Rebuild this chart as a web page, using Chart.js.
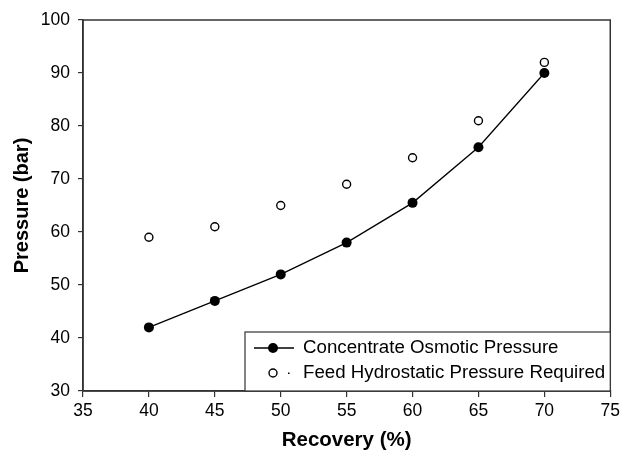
<!DOCTYPE html>
<html>
<head>
<meta charset="utf-8">
<script src="https://cdn.jsdelivr.net/npm/chart.js@4.4.0/dist/chart.umd.min.js"></script>
<style>
  html, body { margin: 0; padding: 0; background: #fff; }
  #wrap { width: 624px; height: 451px; }
</style>
</head>
<body>
<div id="wrap"><canvas id="pressureChart" width="624" height="451"></canvas></div>
<script>
// Recovery (%) on x
const recovery = [40, 45, 50, 55, 60, 65, 70];
// Pressure (bar)
const osmoticPressure = [42, 47, 52, 58, 65.5, 76, 90];
const feedPressure = [59, 61, 65, 69, 74, 81, 92];
const seriesLabels = ['Concentrate Osmotic Pressure', 'Feed Hydrostatic Pressure Required'];
const xTicks = [35, 40, 45, 50, 55, 60, 65, 70, 75];
const yTicks = [30, 40, 50, 60, 70, 80, 90, 100];

const FONT = '"Liberation Sans", Arial, sans-serif';
const INK = '#000';

// frame around the plot area (top + right edges)
const framePlugin = {
    id: 'frame',
    afterDraw(chart) {
        const { ctx, chartArea: a } = chart;
        ctx.save();
        ctx.strokeStyle = '#333';
        ctx.lineWidth = 1.5;
        ctx.strokeRect(a.left, a.top, a.right - a.left, a.bottom - a.top);
        ctx.restore();
    }
};

// legend box sitting in the lower right corner of the plot
const boxLegend = {
    id: 'boxLegend',
    afterDraw(chart) {
        const { ctx, chartArea: a } = chart;
        const boxL = a.left + 162, boxT = a.bottom - 59;
        ctx.save();
        ctx.fillStyle = '#fff';
        ctx.fillRect(boxL, boxT, a.right - boxL, a.bottom - boxT);
        ctx.strokeStyle = '#333';
        ctx.lineWidth = 1.2;
        ctx.strokeRect(boxL, boxT, a.right - boxL, a.bottom - boxT);

        const sx = boxL + 28;
        const rows = [boxT + 16, boxT + 41];
        // row 1: line + filled dot
        ctx.strokeStyle = INK;
        ctx.lineWidth = 1.3;
        ctx.beginPath();
        ctx.moveTo(boxL + 9, rows[0]);
        ctx.lineTo(boxL + 49, rows[0]);
        ctx.stroke();
        ctx.fillStyle = INK;
        ctx.beginPath();
        ctx.arc(sx, rows[0], 5, 0, Math.PI * 2);
        ctx.fill();
        // row 2: open circle + small dot
        ctx.beginPath();
        ctx.arc(sx, rows[1], 4, 0, Math.PI * 2);
        ctx.fillStyle = '#fff';
        ctx.fill();
        ctx.lineWidth = 1.4;
        ctx.stroke();
        ctx.fillStyle = INK;
        ctx.fillRect(sx + 15, rows[1] - 0.5, 1.5, 1.5);

        ctx.font = '18.7px ' + FONT;
        ctx.textBaseline = 'middle';
        ctx.textAlign = 'left';
        ctx.fillText(seriesLabels[0], boxL + 58, rows[0]);
        ctx.fillText(seriesLabels[1], boxL + 58, rows[1]);
        ctx.restore();
    }
};

const ctx = document.getElementById('pressureChart').getContext('2d');
new Chart(ctx, {
    type: 'scatter',
    data: {
        datasets: [
            {
                label: seriesLabels[0],
                data: recovery.map((x, i) => ({ x: x, y: osmoticPressure[i] })),
                showLine: true,
                tension: 0,
                borderColor: INK,
                borderWidth: 1.3,
                pointRadius: 5,
                pointBackgroundColor: INK,
                pointBorderColor: INK,
                pointBorderWidth: 0
            },
            {
                label: seriesLabels[1],
                data: recovery.map((x, i) => ({ x: x, y: feedPressure[i] })),
                showLine: false,
                pointRadius: 4,
                pointBackgroundColor: '#fff',
                pointBorderColor: INK,
                pointBorderWidth: 1.4
            }
        ]
    },
    options: {
        responsive: false,
        animation: false,
        layout: { padding: { top: 20, right: 13, left: 0, bottom: 0 } },
        plugins: {
            legend: { display: false },
            tooltip: { enabled: false }
        },
        scales: {
            x: {
                type: 'linear',
                min: 35,
                max: 75,
                afterBuildTicks: axis => { axis.ticks = xTicks.map(v => ({ value: v })); },
                afterFit: axis => { axis.height = 60; },
                grid: { display: true, drawOnChartArea: false, drawTicks: true, tickLength: 6, color: '#333', lineWidth: 1.2 },
                border: { display: true, color: '#333', width: 1.5 },
                ticks: { color: INK, font: { family: FONT, size: 17.5 }, padding: 4, maxRotation: 0 },
                title: { display: true, text: 'Recovery (%)', color: INK, font: { family: FONT, size: 20.5, weight: 'bold', lineHeight: 1 }, padding: { top: 0, bottom: 0 } }
            },
            y: {
                min: 30,
                max: 100,
                afterBuildTicks: axis => { axis.ticks = yTicks.map(v => ({ value: v })); },
                afterFit: axis => { axis.width = 83; },
                grid: { display: true, drawOnChartArea: false, drawTicks: true, tickLength: 5, color: '#333', lineWidth: 1.2 },
                border: { display: true, color: '#333', width: 1.5 },
                ticks: { color: INK, font: { family: FONT, size: 17.5 }, padding: 8 },
                title: { display: true, text: 'Pressure (bar)', color: INK, font: { family: FONT, size: 20, weight: 'bold' }, padding: { top: 10, bottom: 0 } }
            }
        }
    },
    plugins: [framePlugin, boxLegend]
});
</script>
</body>
</html>
